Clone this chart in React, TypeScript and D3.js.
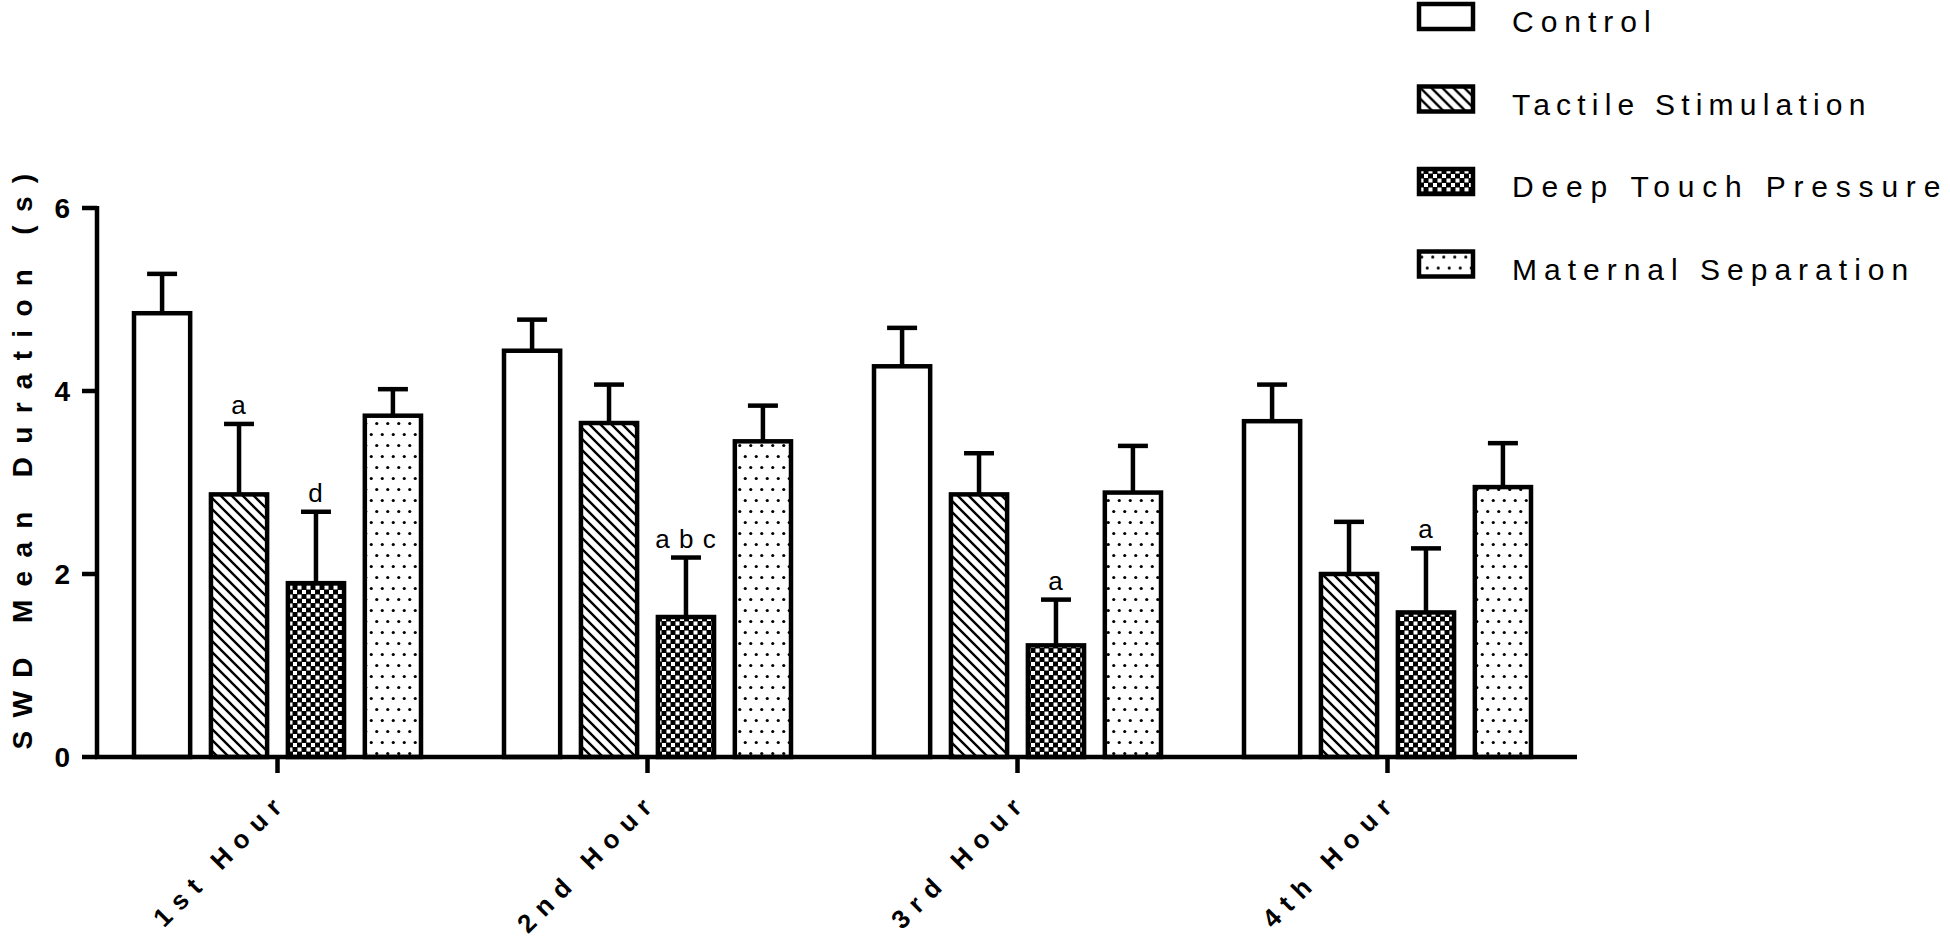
import * as d3 from "d3";

const categories = ["1st Hour", "2nd Hour", "3rd Hour", "4th Hour"];
const seriesNames = ["Control", "Tactile Stimulation", "Deep Touch Pressure", "Maternal Separation"];
const control = [4.85, 4.44, 4.27, 3.67];
const controlErr = [0.43, 0.34, 0.42, 0.4];
const tactile = [2.87, 3.65, 2.87, 2.0];
const tactileErr = [0.77, 0.42, 0.45, 0.57];
const deepTouch = [1.9, 1.53, 1.22, 1.58];
const deepTouchErr = [0.78, 0.65, 0.5, 0.7];
const maternal = [3.73, 3.45, 2.89, 2.95];
const maternalErr = [0.29, 0.39, 0.51, 0.48];
// significance letters per series, per category
const tactileMarks = ["a", "", "", ""];
const deepTouchMarks = ["d", "a b c", "a", "a"];
const yTicks = [0, 2, 4, 6];

const W = 1950;
const H = 939;
const font = "'Liberation Sans', Arial, Helvetica, sans-serif";
const fills = ["#fff", "url(#hatch)", "url(#check)", "url(#dots)"];
const legendSpacing = [7, 6.2, 7.8, 7];
const sw = 4.5;

export default function App() {
  const values = [control, tactile, deepTouch, maternal];
  const errs = [controlErr, tactileErr, deepTouchErr, maternalErr];
  const marks = [["", "", "", ""], tactileMarks, deepTouchMarks, ["", "", "", ""]];

  const x0 = d3.scaleBand<string>().domain(categories).range([92.5, 1572.5]);
  const x1 = d3.scaleBand<string>().domain(seriesNames).range([-143.5, 143.5]).paddingInner(0.27);
  const y = d3.scaleLinear().domain([0, 6]).range([757, 208]);
  const center = (c: string) => (x0(c) ?? 0) + x0.bandwidth() / 2;

  return (
    <svg width={W} height={H} style={{ position: "absolute", left: 0, top: 0, background: "#fff" }}>
      <defs>
        <pattern id="hatch" patternUnits="userSpaceOnUse" width={11} height={11}>
          <rect width={11} height={11} fill="#fff" />
          <path d="M-2,-2 L13,13 M-2,9 L2,13 M9,-2 L13,2" stroke="#000" strokeWidth={2.4} />
        </pattern>
        <pattern id="check" patternUnits="userSpaceOnUse" width={9} height={9}>
          <rect width={9} height={9} fill="#000" />
          <rect x={0.5} y={0.5} width={4} height={4} fill="#fff" />
          <rect x={5} y={5} width={4} height={4} fill="#fff" />
        </pattern>
        <pattern id="dots" patternUnits="userSpaceOnUse" width={11} height={22}>
          <rect width={11} height={22} fill="#fff" />
          <circle cx={2.75} cy={5.5} r={1.6} fill="#000" />
          <circle cx={8.25} cy={16.5} r={1.6} fill="#000" />
        </pattern>
      </defs>

      {/* bars + error bars */}
      {categories.map((c, ci) =>
        seriesNames.map((s, si) => {
          const v = values[si][ci];
          const top = y(v + errs[si][ci]);
          const bx = center(c) + (x1(s) ?? 0);
          const cx = bx + x1.bandwidth() / 2;
          return (
            <g key={c + s}>
              <line x1={cx} x2={cx} y1={y(v)} y2={top} stroke="#000" strokeWidth={sw} />
              <line x1={cx - 15} x2={cx + 15} y1={top} y2={top} stroke="#000" strokeWidth={sw} />
              <rect
                x={bx}
                y={y(v)}
                width={x1.bandwidth()}
                height={y(0) - y(v)}
                fill={fills[si]}
                stroke="#000"
                strokeWidth={sw}
              />
              {marks[si][ci] && (
                <text
                  x={cx}
                  y={top - 10}
                  textAnchor="middle"
                  fontFamily={font}
                  fontSize={26}
                  letterSpacing={1}
                >
                  {marks[si][ci]}
                </text>
              )}
            </g>
          );
        })
      )}

      {/* y axis */}
      <line x1={97} x2={97} y1={y(0) + 2} y2={y(6) - 2} stroke="#000" strokeWidth={sw} />
      {yTicks.map((t) => (
        <g key={t}>
          <line x1={82} x2={97} y1={y(t)} y2={y(t)} stroke="#000" strokeWidth={sw} />
          <text
            x={70}
            y={y(t)}
            dy="0.36em"
            textAnchor="end"
            fontFamily={font}
            fontWeight="bold"
            fontSize={28}
          >
            {t}
          </text>
        </g>
      ))}
      <text
        transform="translate(32,455) rotate(-90)"
        textAnchor="middle"
        fontFamily={font}
        fontWeight="bold"
        fontSize={28}
        letterSpacing={13.3}
      >
        SWD Mean Duration (s)
      </text>

      {/* x axis */}
      <line x1={95} x2={1577} y1={y(0)} y2={y(0)} stroke="#000" strokeWidth={sw} />
      {categories.map((c) => (
        <g key={c}>
          <line x1={center(c)} x2={center(c)} y1={y(0)} y2={y(0) + 16} stroke="#000" strokeWidth={sw} />
          <text
            transform={`translate(${center(c) + 12},${y(0) + 46}) rotate(-45)`}
            textAnchor="end"
            fontFamily={font}
            fontWeight="bold"
            fontSize={26}
            letterSpacing={9}
          >
            {c}
          </text>
        </g>
      ))}

      {/* legend */}
      {seriesNames.map((s, i) => (
        <g key={s} transform={`translate(1419,${4 + i * 82.5})`}>
          <rect width={54} height={25} fill={fills[i]} stroke="#000" strokeWidth={sw} />
          <text x={93} y={28} fontFamily={font} fontSize={30} letterSpacing={legendSpacing[i]}>
            {s}
          </text>
        </g>
      ))}
    </svg>
  );
}
